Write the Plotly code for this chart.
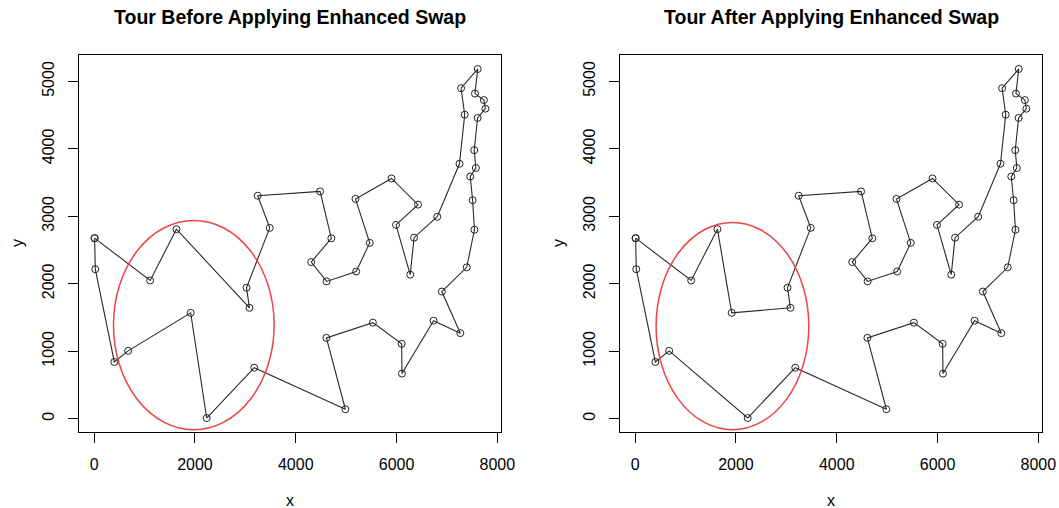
import plotly.graph_objects as go

# att48 city coordinates (city 1..48)
city_x = [6734, 2233, 5530, 401, 3082, 7608, 7573, 7265, 6898, 1112, 5468, 5989, 4706, 4612, 6347, 6107,
          7611, 7462, 7732, 5900, 4483, 6101, 5199, 1633, 4307, 675, 7555, 7541, 3177, 7352, 7545, 3245,
          6426, 4608, 23, 7248, 7762, 7392, 3484, 6271, 4985, 1916, 7280, 7509, 10, 6807, 5185, 3023]
city_y = [1453, 10, 1424, 841, 1644, 4458, 3716, 1268, 1885, 2049, 2606, 2873, 2674, 2035, 2683, 669,
          5184, 3590, 4723, 3561, 3369, 1110, 2182, 2809, 2322, 1006, 4819, 3981, 756, 4506, 2801, 3305,
          3173, 1198, 2216, 3779, 4595, 2244, 2829, 2135, 140, 1569, 4899, 3239, 2676, 2993, 3258, 1942]

tour_before = [45, 10, 24, 5, 48, 39, 32, 21, 13, 25, 14, 23, 11, 47, 20, 33, 12, 40, 15, 46, 36, 30,
               43, 17, 27, 19, 37, 6, 28, 7, 18, 44, 31, 38, 9, 8, 1, 16, 22, 3, 34, 41, 29, 2, 42, 26, 4, 35]
tour_after = [45, 10, 24, 42, 5, 48, 39, 32, 21, 13, 25, 14, 23, 11, 47, 20, 33, 12, 40, 15, 46, 36, 30,
              43, 17, 27, 19, 37, 6, 28, 7, 18, 44, 31, 38, 9, 8, 1, 16, 22, 3, 34, 41, 29, 2, 26, 4, 35]

titles = ["Tour Before Applying Enhanced Swap", "Tour After Applying Enhanced Swap"]
x_ticks = [0, 2000, 4000, 6000, 8000]
y_ticks = [0, 1000, 2000, 3000, 4000, 5000]

# highlight ellipses: (cx, cy, rx, ry) in data units
ellipses = [(1978, 1388, 1594, 1551), (1931, 1373, 1515, 1536)]

x_range = [-300, 8072]
y_range = [-197, 5391]

x_domains = [[79 / 1059, 501 / 1059], [620 / 1059, 1042 / 1059]]
y_domain = [76 / 508, 453 / 508]

fig = go.Figure()
tours = [tour_before, tour_after]
for i, tour in enumerate(tours):
    closed = tour + [tour[0]]
    xs = [city_x[c - 1] for c in closed]
    ys = [city_y[c - 1] for c in closed]
    xa = "x" if i == 0 else "x2"
    ya = "y" if i == 0 else "y2"
    fig.add_trace(go.Scatter(
        x=xs, y=ys, mode="lines+markers", xaxis=xa, yaxis=ya,
        line=dict(color="#2a2a2a", width=1.1),
        marker=dict(symbol="circle-open", size=7, color="#222222", line=dict(width=1)),
        showlegend=False, hoverinfo="skip"))
    cx, cy, rx, ry = ellipses[i]
    fig.add_shape(type="circle", xref=xa, yref=ya, x0=cx - rx, x1=cx + rx, y0=cy - ry, y1=cy + ry,
                  line=dict(color="#EE4444", width=1.5))

axis_common = dict(showgrid=False, zeroline=False, showline=True, mirror=True, linecolor="black",
                   linewidth=1, ticks="outside", ticklen=10, tickwidth=1, tickcolor="black",
                   tickfont=dict(family="Liberation Sans, Arial, sans-serif", size=16, color="black"),
                   ticklabelstandoff=8, automargin=False)

layout = dict(
    width=1059, height=508, margin=dict(l=0, r=0, t=0, b=0, autoexpand=False),
    plot_bgcolor="white", paper_bgcolor="white",
    font=dict(family="Liberation Sans, Arial, sans-serif", color="black"),
)
for i in range(2):
    sfx = "" if i == 0 else "2"
    layout["xaxis" + sfx] = dict(axis_common, domain=x_domains[i], range=x_range, tickvals=x_ticks,
                                 anchor="y" + sfx)
    layout["yaxis" + sfx] = dict(axis_common, domain=y_domain, range=y_range, tickvals=y_ticks,
                                 tickangle=-90, anchor="x" + sfx)
fig.update_layout(**layout)

annotations = []
for i in range(2):
    cxp = (x_domains[i][0] + x_domains[i][1]) / 2
    annotations.append(dict(text="<b>" + titles[i] + "</b>", x=cxp, y=(508 - 17) / 508, xref="paper",
                            yref="paper", showarrow=False, xanchor="center", yanchor="middle",
                            font=dict(size=19.5, family="Liberation Sans, Arial, sans-serif")))
    annotations.append(dict(text="x", x=cxp, y=(508 - 500) / 508, xref="paper", yref="paper",
                            showarrow=False, xanchor="center", yanchor="middle", font=dict(size=16)))
    annotations.append(dict(text="y", x=(x_domains[i][0] * 1059 - 62) / 1059, y=(508 - 243) / 508,
                            xref="paper", yref="paper", showarrow=False, xanchor="center",
                            yanchor="middle", textangle=-90, font=dict(size=16)))
fig.update_layout(annotations=annotations)

fig.write_html("out.html", config={"displayModeBar": False},
               post_script="document.body.style.margin='0';document.body.style.overflow='hidden';")
